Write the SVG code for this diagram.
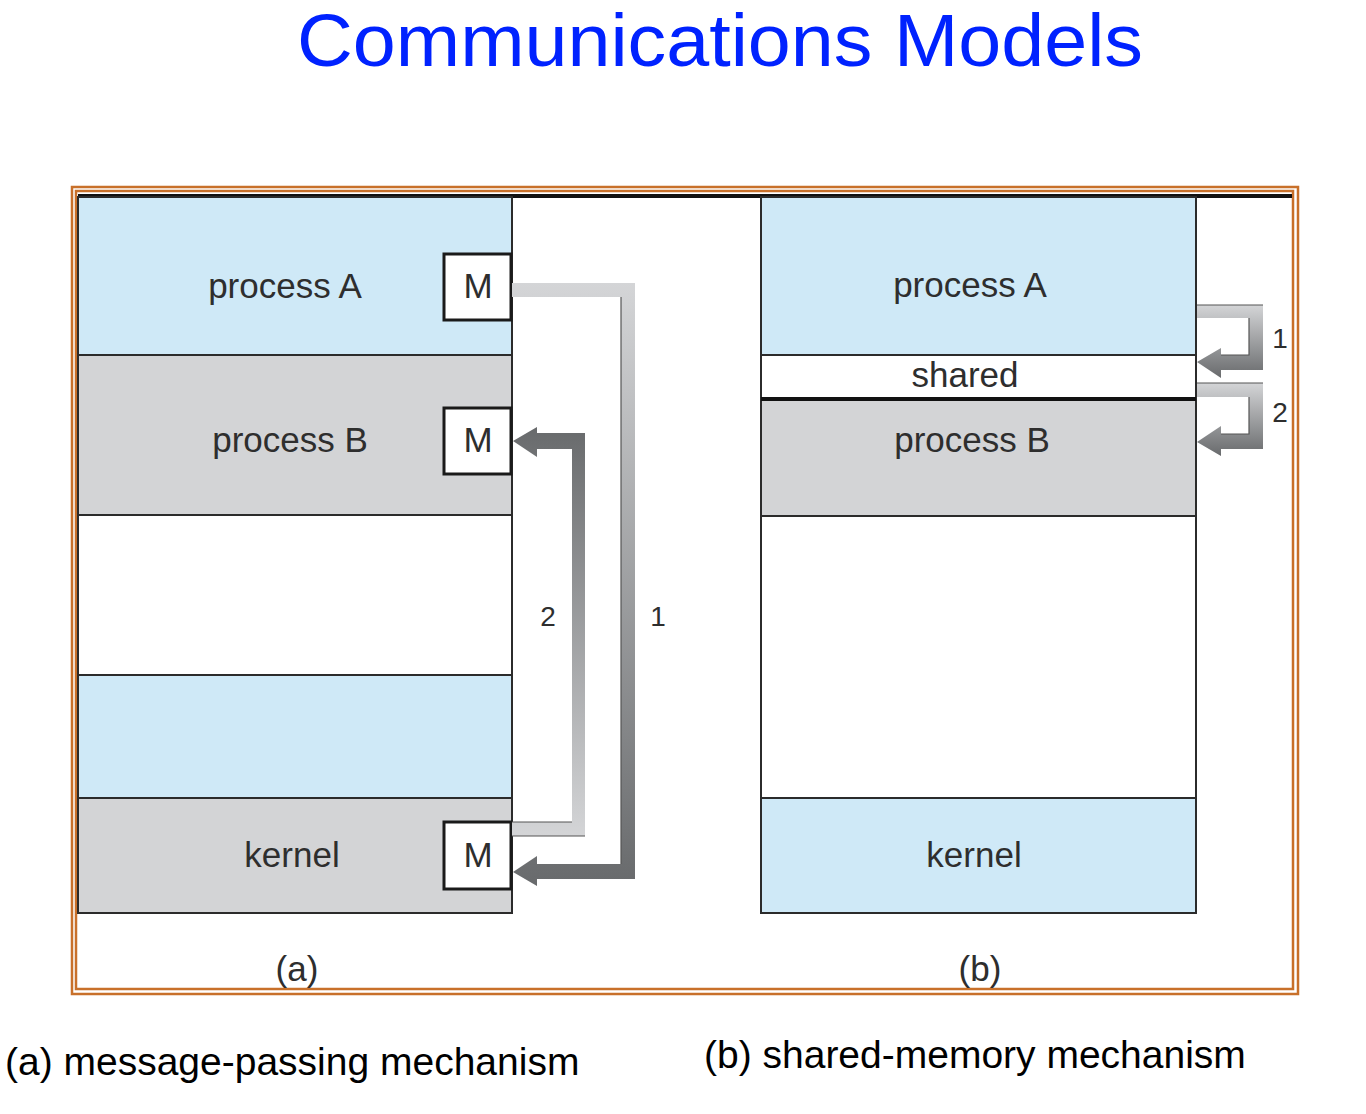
<svg xmlns="http://www.w3.org/2000/svg" width="1366" height="1114" viewBox="0 0 1366 1114">
<style>
  .lbl { font-family: "Liberation Sans", Arial, sans-serif; font-size: 35px; fill: #2e2e2e; text-anchor: middle; }
  .num { font-family: "Liberation Sans", Arial, sans-serif; font-size: 28px; fill: #2e2e2e; text-anchor: middle; }
  .cap { font-family: "Liberation Sans", Arial, sans-serif; font-size: 39px; fill: #000; }
  .title { font-family: "Liberation Sans", Arial, sans-serif; font-size: 75px; fill: #0022FF; text-anchor: middle; }
  .blue { fill: #CFE9F7; stroke: #2b2b2b; stroke-width: 2; }
  .gray { fill: #D3D4D6; stroke: #2b2b2b; stroke-width: 2; }
  .white { fill: #FFFFFF; stroke: #2b2b2b; stroke-width: 2; }
  .mbox { fill: #FFFFFF; stroke: #1a1a1a; stroke-width: 3; }
  .edge { stroke: #555; stroke-width: 1.2; fill: none; }
  .frame { fill: none; stroke: #C8702A; stroke-width: 2.5; }
</style>
<defs>
  <linearGradient id="gA1" gradientUnits="userSpaceOnUse" x1="0" y1="283" x2="0" y2="886">
    <stop offset="0" stop-color="#D4D5D7"/>
    <stop offset="1" stop-color="#686a6c"/>
  </linearGradient>
  <linearGradient id="gA2" gradientUnits="userSpaceOnUse" x1="0" y1="836" x2="0" y2="427">
    <stop offset="0" stop-color="#D4D5D7"/>
    <stop offset="1" stop-color="#686a6c"/>
  </linearGradient>
  <linearGradient id="gB1" gradientUnits="userSpaceOnUse" x1="0" y1="305" x2="0" y2="378">
    <stop offset="0" stop-color="#D4D5D7"/>
    <stop offset="1" stop-color="#686a6c"/>
  </linearGradient>
  <linearGradient id="gB2" gradientUnits="userSpaceOnUse" x1="0" y1="383" x2="0" y2="456">
    <stop offset="0" stop-color="#D4D5D7"/>
    <stop offset="1" stop-color="#686a6c"/>
  </linearGradient>
</defs>

<rect width="1366" height="1114" fill="#FFFFFF"/>

<text class="title" x="720" y="66" textLength="846" lengthAdjust="spacingAndGlyphs">Communications Models</text>

<g id="frame">
  <rect class="frame" x="72" y="187" width="1226" height="807"/>
  <rect class="frame" x="76" y="191" width="1217" height="798"/>
  <rect x="78" y="194" width="1214" height="4" fill="#111"/>
</g>

<g id="a-processA">
  <rect class="blue" x="78" y="197" width="434" height="158"/>
  <text class="lbl" x="285" y="298">process A</text>
</g>
<g id="a-processB">
  <rect class="gray" x="78" y="355" width="434" height="160"/>
  <text class="lbl" x="290" y="452">process B</text>
</g>
<g id="a-free">
  <rect class="white" x="78" y="515" width="434" height="160"/>
</g>
<g id="a-blue2">
  <rect class="blue" x="78" y="675" width="434" height="123"/>
</g>
<g id="a-kernel">
  <rect class="gray" x="78" y="798" width="434" height="115"/>
  <text class="lbl" x="292" y="867">kernel</text>
</g>
<g id="a-MA">
  <rect class="mbox" x="444" y="254" width="67" height="66"/>
  <text class="lbl" x="478" y="298">M</text>
</g>
<g id="a-MB">
  <rect class="mbox" x="444" y="408" width="67" height="66"/>
  <text class="lbl" x="478" y="452">M</text>
</g>
<g id="a-MK">
  <rect class="mbox" x="444" y="822" width="67" height="67"/>
  <text class="lbl" x="478" y="867">M</text>
</g>
<text class="lbl" x="297" y="981">(a)</text>

<g id="b-processA">
  <rect class="blue" x="761" y="197" width="435" height="158"/>
  <text class="lbl" x="970" y="297">process A</text>
</g>
<g id="b-shared">
  <rect class="white" x="761" y="355" width="435" height="43"/>
  <text class="lbl" x="965" y="387">shared</text>
</g>
<g id="b-processB">
  <rect class="gray" x="761" y="399" width="435" height="117"/>
  <line x1="761" y1="399" x2="1196" y2="399" stroke="#111" stroke-width="4"/>
  <text class="lbl" x="972" y="452">process B</text>
</g>
<g id="b-free">
  <rect class="white" x="761" y="516" width="435" height="282"/>
</g>
<g id="b-kernel">
  <rect class="blue" x="761" y="798" width="435" height="115"/>
  <text class="lbl" x="974" y="867">kernel</text>
</g>
<text class="lbl" x="980" y="981">(b)</text>

<g id="connectors">
  <polygon fill="url(#gA1)" points="512,283 635,283 635,879 537,879 537,886 513,872 537,856 537,864 621,864 621,297 512,297"/>
  <polyline class="edge" points="621,297 621,864"/>
  <polygon fill="url(#gA2)" points="512,836 585,836 585,433 537,433 537,427 513,441 537,457 537,449 572,449 572,822 512,822"/>
  <polyline class="edge" points="512,822 572,822"/>
  <polyline class="edge" points="512,836 585,836"/>
  <text class="num" x="548" y="626">2</text>
  <text class="num" x="658" y="626">1</text>

  <polygon fill="url(#gB1)" points="1197,305 1263,305 1263,370 1221,370 1221,378 1197,362 1221,348 1221,355 1249,355 1249,318 1197,318"/>
  <polyline class="edge" points="1197,305 1263,305"/>
  <polyline class="edge" points="1221,355 1249,355 1249,318"/>
  <polygon fill="url(#gB2)" points="1197,383 1263,383 1263,449 1221,449 1221,456 1197,442 1221,426 1221,434 1249,434 1249,397 1197,397"/>
  <polyline class="edge" points="1197,383 1263,383"/>
  <polyline class="edge" points="1221,434 1249,434 1249,397"/>
  <text class="num" x="1280" y="348">1</text>
  <text class="num" x="1280" y="422">2</text>
</g>

<text class="cap" x="5" y="1075">(a) message-passing mechanism</text>
<text class="cap" x="704" y="1068">(b) shared-memory mechanism</text>
</svg>
